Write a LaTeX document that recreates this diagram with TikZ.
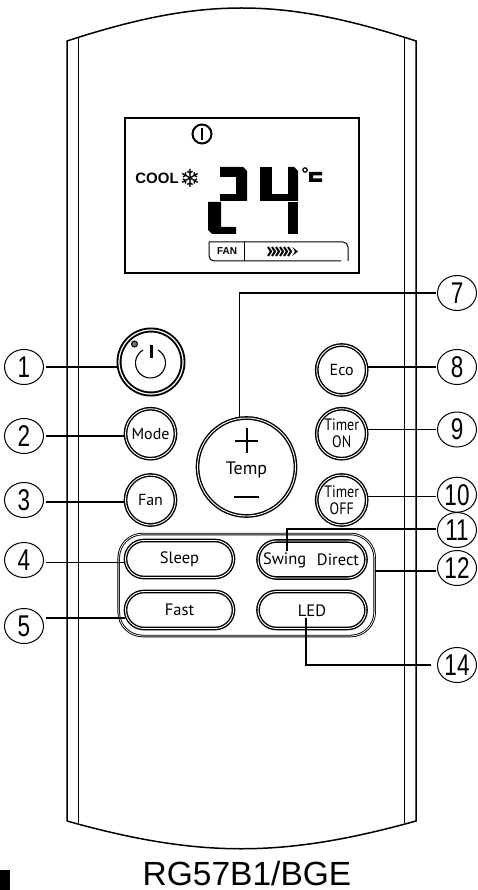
\documentclass[tikz,border=0pt]{standalone}
\usepackage{fontspec}
\setmainfont{PT Sans}
\newfontfamily\narrowfont[FakeStretch=0.85]{PT Sans}
\newfontfamily\numfont[FakeStretch=0.75]{Liberation Sans}
\newfontfamily\modelfont{Liberation Sans}
\newfontfamily\symfont{DejaVu Sans}
\usetikzlibrary{shapes.geometric}
\tikzset{
  bodyline/.style={line width=1.5pt},
  leader/.style={line width=1.4pt},
  lcdseg/.style={fill=black},
  callout/.style={ellipse, draw, line width=1pt, minimum width=39pt, minimum height=35pt, inner sep=0pt, outer sep=2pt, font=\numfont\fontsize{30}{30}\selectfont},
  roundkey/.style={circle, draw, double, double distance=0.9pt, line width=1.4pt, minimum size=50pt, inner sep=0pt, align=center, font=\fontsize{16}{17}\selectfont},
  timerkey/.style={roundkey, font=\narrowfont\fontsize{16.5}{17}\selectfont},
  longkey/.style={rectangle, draw, double, double distance=0.9pt, line width=1.4pt, rounded corners=18.5pt, minimum width=108pt, minimum height=37pt, inner sep=0pt, font=\fontsize{16.5}{17}\selectfont},
  keytext/.style={inner sep=1pt, font=\fontsize{16.5}{17}\selectfont},
}
\begin{document}
\begin{tikzpicture}[x=1pt, y=-1pt]
\useasboundingbox (0,0) rectangle (477,890);
\draw[bodyline] (67,821) -- (67,41) .. controls (202,-3) and (281,-3) .. (416,41) -- (416,821) .. controls (283,858) and (199,858) .. (67,821);
\draw[bodyline] (78.5,38) -- (78.5,823);
\draw[bodyline] (404.5,38) -- (404.5,823);
\draw[line width=2pt] (125,118) rectangle (359,273);
\draw[line width=2pt] (202,134) circle (9.5pt);
\draw[line width=2.2pt] (202,128) -- (202,140);
\node[inner sep=0pt, font=\modelfont\bfseries\fontsize{15}{15}\selectfont] (cooltxt) at (157,178) {COOL};
\node[inner sep=0pt, font=\symfont\bfseries\fontsize{25}{25}\selectfont] (snow) at (190,178) {❄};
\fill[lcdseg] (220,167) -- (243,167) -- (247,171) -- (247,201) -- (236,201) -- (236,177) -- (220,177) -- cycle;
\fill[lcdseg] (220,194) rectangle (236,201);
\fill[lcdseg] (208,202) -- (221,202) -- (221,227) -- (236,227) -- (236,234) -- (212,234) -- (208,230) -- cycle;
\fill[lcdseg] (260,167) rectangle (272,201);
\fill[lcdseg] (272,194) rectangle (288,201);
\fill[lcdseg] (288,167) -- (294,167) -- (298,171) -- (298,201) -- (288,201) -- cycle;
\fill[lcdseg] (288,202) rectangle (298,234);
\draw[line width=1.2pt] (305,170) circle (2.2pt);
\fill[lcdseg] (309,172) -- (322,172) -- (322,175.5) -- (313,175.5) -- (313,178.5) -- (322,178.5) -- (322,182) -- (309,182) -- cycle;
\draw[line width=1pt, rounded corners=5pt] (209,242) -- (348,242) -- (348,261);
\draw[line width=1pt, rounded corners=5pt] (209,242) -- (209,261) -- (341,261);
\draw[line width=1pt] (244,242) -- (244,261);
\node[inner sep=0pt, font=\modelfont\bfseries\fontsize{10}{10}\selectfont] (fantxt) at (227,251.5) {FAN};
\draw[line width=2pt] (268,247) -- (271,251.5) -- (268,256);
\draw[line width=2pt] (272,247) -- (275,251.5) -- (272,256);
\draw[line width=2pt] (276,247) -- (279,251.5) -- (276,256);
\draw[line width=2pt] (280,247) -- (283,251.5) -- (280,256);
\draw[line width=2pt] (284,247) -- (287,251.5) -- (284,256);
\draw[line width=2pt] (288,247) -- (291,251.5) -- (288,256);
\fill[lcdseg] (292,247) -- (298,251.5) -- (292,256) -- (295,251.5) -- cycle;
% keys
\node[roundkey, minimum size=64pt, line width=1.9pt, double distance=1.2pt] (power) at (151,362) {};
\draw[line width=1.1pt] (158,350) arc[start angle=60, end angle=-240, radius=15pt];
\draw[line width=3pt] (151,345) -- (151,358);
\draw[line width=1pt, fill=black!55] (134.5,344) circle (3pt);
\node[roundkey] (mode) at (150.5,433.7) {Mode};
\node[roundkey] (fan) at (150.5,500) {Fan};
\node[roundkey, minimum size=98pt] (temp) at (246.5,467) {};
\node[keytext, font=\fontsize{18}{18}\selectfont] (temptxt) at (246.5,470) {Temp};
\draw[line width=1.2pt] (235,441) -- (258,441);
\draw[line width=1.2pt] (247,428) -- (247,453);
\draw[line width=2pt] (234,497) -- (259,497);
\node[roundkey] (eco) at (341.7,370) {Eco};
\node[timerkey] (timeron) at (341.7,433.7) {Timer\\ON};
\node[timerkey] (timeroff) at (341.7,500) {Timer\\OFF};
\node[longkey, minimum width=256pt, minimum height=102pt, rounded corners=24pt, line width=0.9pt, double distance=0.7pt] (group) at (246.7,585) {};
\node[longkey] (sleep) at (179.5,559) {Sleep};
\node[longkey] (fast) at (179.5,610) {Fast};
\node[longkey] (swing) at (312,559.5) {};
\node[longkey] (led) at (312,610) {};
\node[keytext] (swingtxt) at (284.6,560) {Swing};
\node[keytext] (directtxt) at (338,560) {Direct};
\node[keytext] (ledtxt) at (312,611) {LED};
% callouts
\node[callout] (c1) at (24,367) {1};
\node[callout] (c2) at (24,436) {2};
\node[callout] (c3) at (24,500) {3};
\node[callout] (c4) at (24,560) {4};
\node[callout] (c5) at (24,626) {5};
\node[callout] (c7) at (457,293) {7};
\node[callout] (c8) at (457,367) {8};
\node[callout] (c9) at (457,429.5) {9};
\node[callout] (c10) at (457,494.7) {10};
\node[callout] (c11) at (457,530) {11};
\node[callout] (c12) at (457,568) {12};
\node[callout] (c14) at (457,665) {14};
\draw[leader] (c1.east) -- (c1.east -| power.west);
\draw[leader] (c2.east) -- (c2.east -| mode.west);
\draw[leader] ([yshift=-2pt]c3.east) -- ([yshift=-2pt]c3.east -| fan.west);
\draw[leader] ([yshift=-2.5pt]c4.east) -- ([yshift=-2.5pt]c4.east -| sleep.west);
\draw[leader] ([yshift=8pt]c5.east) -- ([yshift=8pt]c5.east -| fast.west);
\draw[leader] (c7.west) -| ([xshift=-7pt]temp.north);
\draw[leader] (c8.west) -- (c8.west -| eco.east);
\draw[leader] (c9.west) -- (c9.west -| timeron.east);
\draw[leader] ([yshift=-2pt]c10.west) -- ([yshift=-2pt]c10.west -| timeroff.east);
\draw[leader] ([yshift=1pt]c11.west) -| ([xshift=2.4pt]swingtxt.north);
\draw[leader] ([yshift=-3pt]c12.west) -- ([yshift=-3pt]c12.west -| group.east);
\draw[leader] ([xshift=-5pt]c14.west) -| ([xshift=-6pt]ledtxt.south);
\node[inner sep=0pt, font=\modelfont\fontsize{33.5}{33.5}\selectfont] (model) at (247,874) {RG57B1/BGE};
\fill (0,870) rectangle (10,890);
\end{tikzpicture}
\end{document}
